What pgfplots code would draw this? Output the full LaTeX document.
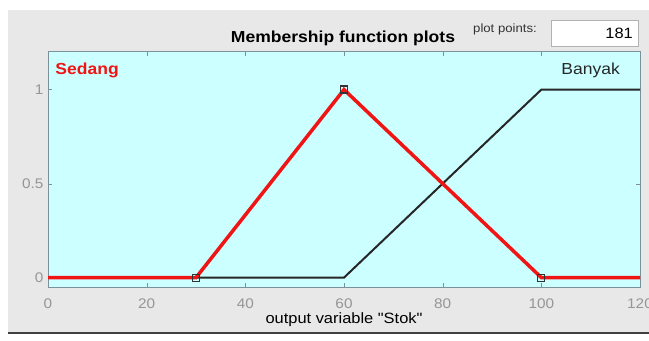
\documentclass[border=0pt]{standalone}
\usepackage{pgfplots}
\pgfplotsset{compat=1.18}
\usepackage{fontspec}
\newfontfamily\plainfont{Liberation Sans}[FakeStretch=1.1]
\definecolor{panel}{RGB}{232,232,232}
\definecolor{axbg}{RGB}{204,255,255}
\definecolor{axline}{RGB}{125,145,155}
\definecolor{ticklab}{RGB}{150,150,150}
\definecolor{mfred}{RGB}{240,20,20}
\begin{document}
\plainfont
\begin{tikzpicture}[x=1bp,y=1bp]
\path[use as bounding box] (0,0) rectangle (649,340);
\fill[white] (0,0) rectangle (649,340);
\fill[panel] (8,7) rectangle (649,330);
\draw[line width=2bp, black!75] (8,7)--(649,7);
\node[font=\plainfont\bfseries\fontsize{16}{18}\selectfont, inner sep=0pt] at (343,302) {Membership function plots};
\node[font=\plainfont\fontsize{12}{14}\selectfont, inner sep=0pt, text=black!80] at (505,311) {plot points:};
\draw[fill=white, draw=black!30] (551,294) rectangle (638,320);
\node[font=\plainfont\fontsize{15}{17}\selectfont, inner sep=0pt, anchor=east] at (633,307) {181};
\begin{axis}[
  at={(48bp,53bp)}, anchor=south west,
  width=592bp, height=235bp, scale only axis,
  xmin=0, xmax=120, ymin=-0.05, ymax=1.2,
  xtick={0,20,40,60,80,100,120}, ytick={0,0.5,1},
  yticklabels={0,0.5,1},
  tick align=inside, major tick length=4bp,
  axis background/.style={fill=axbg},
  axis line style={axline, line width=1bp},
  tick style={axline},
  tick label style={text=ticklab, font=\plainfont\fontsize{14}{16}\selectfont},
  xticklabel style={yshift=-8bp},
  yticklabel style={xshift=-1bp},
  /pgf/number format/assume math mode=true,
  xlabel={output variable "Stok"},
  xlabel style={at={(axis description cs:0.5,0)}, anchor=center, yshift=-33bp, font=\plainfont\fontsize{15}{17}\selectfont},
]
\addplot[black!85, line width=2bp] coordinates {(0,0)(60,0)(100,1)(120,1)};
\addplot[mfred, line width=3.5bp] coordinates {(0,0)(30,0)(60,1)(100,0)(120,0)};
\addplot[only marks, mark=square, mark size=3.5bp, black!80, mark options={line width=1.2bp}] coordinates {(30,0)(60,1)(100,0)};
\node[anchor=west, text=mfred, font=\plainfont\bfseries\fontsize{16}{18}\selectfont] at (axis cs:0.8,1.10) {Sedang};
\node[text=black!85, font=\plainfont\fontsize{16}{18}\selectfont] at (axis cs:110,1.10) {Banyak};
\end{axis}
\end{tikzpicture}
\end{document}
